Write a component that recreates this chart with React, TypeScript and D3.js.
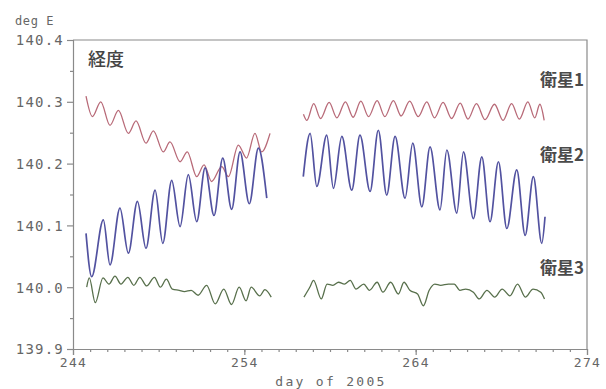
import { useEffect, useRef } from "react";
import * as d3 from "d3";

// [day of 2005, longitude deg E] — turning points
const sat1Part1: [number, number][] = [
  [244.76, 140.309], [245.13, 140.276], [245.62, 140.3], [246.16, 140.262],
  [246.65, 140.286], [247.23, 140.249], [247.68, 140.269], [248.26, 140.233],
  [248.69, 140.253], [249.27, 140.219], [249.66, 140.235], [250.25, 140.203],
  [250.67, 140.219], [251.22, 140.179], [251.65, 140.198], [252.09, 140.171],
  [252.68, 140.195], [253.07, 140.179], [253.65, 140.23], [254.13, 140.209],
  [254.62, 140.249], [255.01, 140.219], [255.5, 140.249],
];
const sat1Part2: [number, number][] = [
  [257.45, 140.28], [257.65, 140.27], [258.05, 140.297], [258.45, 140.273],
  [258.95, 140.299], [259.4, 140.274], [259.9, 140.3], [260.35, 140.275],
  [260.8, 140.301], [261.25, 140.276], [261.75, 140.302], [262.2, 140.276],
  [262.7, 140.302], [263.15, 140.277], [263.65, 140.301], [264.15, 140.276],
  [264.65, 140.3], [265.1, 140.274], [265.6, 140.299], [266.1, 140.273],
  [266.6, 140.298], [267.05, 140.272], [267.55, 140.297], [268.05, 140.271],
  [268.6, 140.296], [269.1, 140.27], [269.6, 140.297], [270.05, 140.272],
  [270.55, 140.3], [270.95, 140.274], [271.25, 140.296], [271.5, 140.27],
];
const sat2Part1: [number, number][] = [
  [244.76, 140.087], [245.09, 140.017], [245.77, 140.109], [246.16, 140.036],
  [246.74, 140.128], [247.23, 140.055], [247.76, 140.139], [248.26, 140.063],
  [248.79, 140.157], [249.24, 140.071], [249.76, 140.173], [250.25, 140.098],
  [250.73, 140.182], [251.22, 140.106], [251.71, 140.193], [252.23, 140.116],
  [252.74, 140.209], [253.26, 140.126], [253.75, 140.219], [254.29, 140.135],
  [254.82, 140.225], [255.31, 140.144],
];
const sat2Part2: [number, number][] = [
  [257.44, 140.179], [257.84, 140.249], [258.23, 140.163], [258.81, 140.246],
  [259.2, 140.16], [259.69, 140.244], [260.27, 140.157], [260.75, 140.246],
  [261.34, 140.155], [261.82, 140.254], [262.31, 140.149], [262.8, 140.244],
  [263.38, 140.144], [263.83, 140.233], [264.36, 140.13], [264.84, 140.227],
  [265.42, 140.125], [265.82, 140.222], [266.4, 140.12], [266.79, 140.219],
  [267.37, 140.111], [267.86, 140.211], [268.34, 140.106], [268.83, 140.203],
  [269.32, 140.095], [269.9, 140.19], [270.39, 140.084], [270.87, 140.179],
  [271.36, 140.071], [271.55, 140.114],
];
const sat3Part1: [number, number][] = [
  [244.8, 140.0], [244.95, 140.015], [245.3, 139.975], [245.75, 140.015],
  [246.1, 140.005], [246.45, 140.018], [246.8, 140.005], [247.2, 140.016],
  [247.55, 140.003], [247.9, 140.016], [248.3, 140.002], [248.75, 140.016],
  [249.1, 140.0], [249.45, 140.013], [249.8, 139.997], [250.2, 139.995],
  [250.5, 139.993], [250.9, 139.995], [251.3, 139.987], [251.8, 140.003],
  [252.3, 139.973], [252.8, 139.997], [253.25, 139.972], [253.7, 140.0],
  [254.1, 139.978], [254.4, 140.0], [254.9, 139.986], [255.2, 139.996],
  [255.57, 139.984],
];
const sat3Part2: [number, number][] = [
  [257.48, 139.984], [257.82, 140.0], [258.04, 140.011], [258.49, 139.981],
  [258.83, 140.005], [259.17, 140.003], [259.5, 140.008], [259.84, 140.005],
  [260.18, 140.011], [260.52, 139.997], [260.97, 140.005], [261.3, 139.995],
  [261.75, 140.008], [262.09, 139.992], [262.54, 140.008], [262.99, 139.989],
  [263.32, 140.008], [263.66, 139.995], [264.11, 139.989], [264.45, 139.97],
  [264.79, 139.995], [265.12, 140.005], [265.46, 140.003], [265.91, 140.005],
  [266.25, 140.005], [266.58, 139.995], [266.92, 139.997], [267.37, 139.992],
  [267.71, 139.981], [268.16, 139.995], [268.61, 139.984], [269.05, 139.997],
  [269.5, 139.986], [269.95, 140.005], [270.4, 139.984], [270.85, 139.997],
  [271.3, 139.992], [271.52, 139.981],
];

const xTicks = [244, 254, 264, 274];
const yTicks = [139.9, 140.0, 140.1, 140.2, 140.3, 140.4];
const seriesNames = ["衛星1", "衛星2", "衛星3"];

export default function App() {
  const svgRef = useRef<SVGSVGElement>(null);

  useEffect(() => {
    const svg = d3.select(svgRef.current);
    svg.selectAll("*").remove();

    const left = 73, right = 587, top = 40, bottom = 349;
    const x = d3.scaleLinear().domain([244, 274]).range([left, right]);
    const y = d3.scaleLinear().domain([139.9, 140.4]).range([bottom, top]);
    const axisColor = "#8a8a8a";
    const textColor = "#666";
    const mono = "'DejaVu Sans Mono', monospace";

    // frame top/right
    svg.append("path")
      .attr("d", `M${left},${top}H${right}V${bottom}`)
      .attr("fill", "none")
      .attr("stroke", axisColor)
      .attr("stroke-width", 1.2);

    const xAxis = svg.append("g")
      .attr("transform", `translate(0,${bottom})`)
      .call(d3.axisBottom(x).tickValues(xTicks).tickSize(6).tickFormat(d3.format("d")));
    svg.append("g")
      .attr("transform", `translate(0,${bottom})`)
      .call(d3.axisBottom(x).tickValues(d3.range(245, 274)).tickSize(3).tickFormat(() => ""))
      .call((g) => g.select(".domain").remove());

    const yAxis = svg.append("g")
      .attr("transform", `translate(${left},0)`)
      .call(d3.axisLeft(y).tickValues(yTicks).tickSize(6).tickFormat(d3.format(".1f")));
    svg.append("g")
      .attr("transform", `translate(${left},0)`)
      .call(d3.axisLeft(y).tickValues([139.95, 140.05, 140.15, 140.25, 140.35]).tickSize(3).tickFormat(() => ""))
      .call((g) => g.select(".domain").remove());

    svg.selectAll(".domain, .tick line")
      .attr("stroke", axisColor)
      .attr("stroke-width", 1.2);
    xAxis.selectAll("text")
      .attr("font-family", mono).attr("font-size", 13).attr("fill", textColor)
      .attr("letter-spacing", 1.4)
      .attr("y", 18).attr("dy", 0);
    yAxis.selectAll("text")
      .attr("font-family", mono).attr("font-size", 14).attr("fill", textColor)
      .attr("letter-spacing", 1.2)
      .attr("x", -9).attr("dy", "0.35em");

    svg.append("text")
      .attr("x", 331).attr("y", 386)
      .attr("text-anchor", "middle")
      .attr("font-family", mono).attr("font-size", 13).attr("fill", textColor)
      .attr("letter-spacing", 2.3)
      .text("day of 2005");
    svg.append("text")
      .attr("x", 15).attr("y", 25)
      .attr("font-family", mono).attr("font-size", 12).attr("fill", textColor)
      .attr("letter-spacing", 0.6)
      .text("deg E");

    const line = d3.line<[number, number]>()
      .x((d) => x(d[0]))
      .y((d) => y(d[1]))
      .curve(d3.curveMonotoneX);

    const series = [
      { parts: [sat1Part1, sat1Part2], color: "#b86a78", width: 1.3 },
      { parts: [sat2Part1, sat2Part2], color: "#5252a0", width: 1.7 },
      { parts: [sat3Part1, sat3Part2], color: "#58704c", width: 1.3 },
    ];
    series.forEach((s) => {
      svg.append("g")
        .selectAll("path")
        .data(s.parts)
        .join("path")
        .attr("fill", "none")
        .attr("stroke", s.color)
        .attr("stroke-width", s.width)
        .attr("stroke-linejoin", "round")
        .attr("d", line);
    });

    const cjk = "'Noto Sans CJK JP', sans-serif";
    svg.append("text")
      .attr("x", 88).attr("y", 66)
      .attr("font-family", cjk).attr("font-size", 18).attr("font-weight", 500)
      .attr("fill", "#444")
      .text("経度");

    const labelY = [140.325, 140.205, 140.022];
    svg.append("g")
      .selectAll("text")
      .data(seriesNames)
      .join("text")
      .attr("x", 584)
      .attr("y", (_, i) => y(labelY[i]))
      .attr("text-anchor", "end")
      .attr("font-family", cjk).attr("font-size", 17).attr("font-weight", 700)
      .attr("fill", "#4a4a4a")
      .text((d) => d);
  }, []);

  return (
    <div style={{ position: "absolute", left: 0, top: 0, background: "#fff" }}>
      <svg ref={svgRef} width={606} height={389} style={{ display: "block" }} />
    </div>
  );
}
